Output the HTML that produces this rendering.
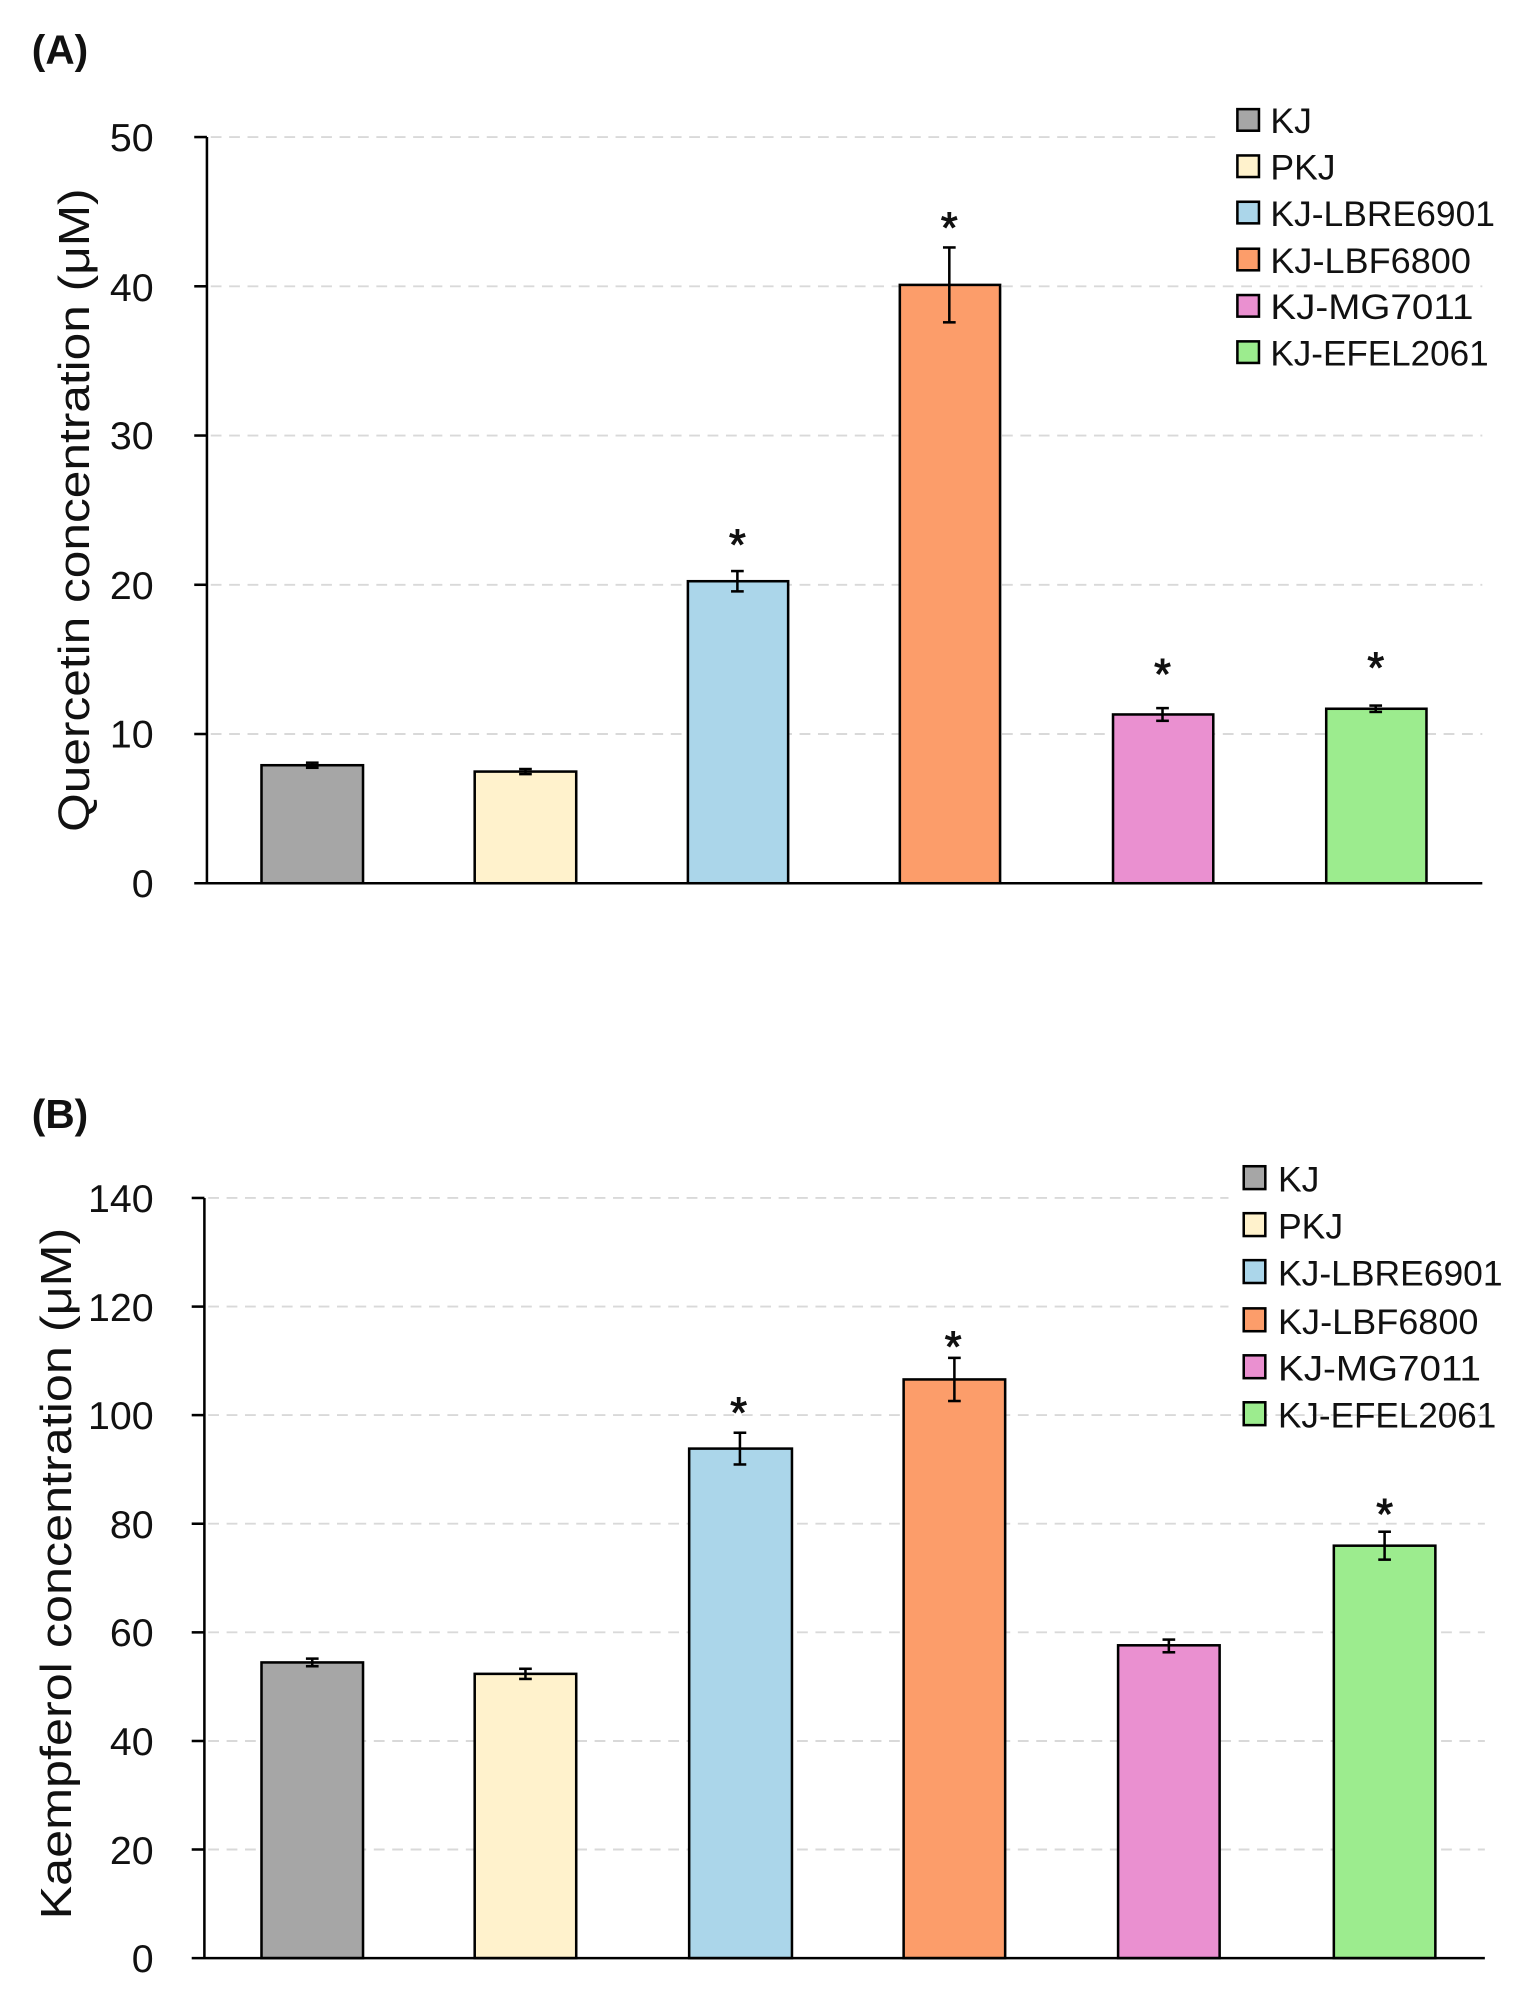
<!DOCTYPE html>
<html><head><meta charset="utf-8"><style>
html,body{margin:0;padding:0;background:#fff;}
svg{display:block;}
text{font-family:"Liberation Sans",sans-serif;fill:#111;}
</style></head><body>
<svg width="1523" height="2000" viewBox="0 0 1200 1576" xmlns="http://www.w3.org/2000/svg">
<!-- Panel A -->
<text x="25" y="50" font-size="32" font-weight="bold">(A)</text>
<g stroke="#d9d9d9" stroke-width="1.5" stroke-dasharray="8.5,6">
<line x1="166" y1="108" x2="960" y2="108"/>
<line x1="166" y1="225.6" x2="1168" y2="225.6"/>
<line x1="166" y1="343.2" x2="1168" y2="343.2"/>
<line x1="166" y1="460.8" x2="1168" y2="460.8"/>
<line x1="166" y1="578.4" x2="1168" y2="578.4"/>
</g>
<g font-size="31" text-anchor="end">
<text x="121" y="119">50</text><text x="121" y="237">40</text><text x="121" y="354">30</text>
<text x="121" y="472">20</text><text x="121" y="589">10</text><text x="121" y="707">0</text>
</g>
<g stroke="#000" stroke-width="2">
<line x1="163" y1="108" x2="163" y2="696"/>
<line x1="153" y1="108" x2="163" y2="108"/><line x1="153" y1="225.6" x2="163" y2="225.6"/>
<line x1="153" y1="343.2" x2="163" y2="343.2"/><line x1="153" y1="460.8" x2="163" y2="460.8"/>
<line x1="153" y1="578.4" x2="163" y2="578.4"/>
</g>
<text transform="translate(70,402) rotate(-90)" font-size="34" text-anchor="middle" textLength="507" lengthAdjust="spacingAndGlyphs">Quercetin  concentration (μM)</text>
<g stroke="#000" stroke-width="2">
<rect x="206" y="603" width="80" height="93" fill="#a6a6a6"/>
<rect x="374" y="608" width="80" height="88" fill="#fff2cc"/>
<rect x="542" y="458" width="79" height="238" fill="#abd6ea"/>
<rect x="709" y="224.5" width="79" height="471.5" fill="#fc9d6a"/>
<rect x="877" y="563" width="79" height="133" fill="#ea90d0"/>
<rect x="1045" y="558.5" width="79" height="137.5" fill="#9cec8e"/>
</g>
<line x1="153" y1="696" x2="1168" y2="696" stroke="#000" stroke-width="2"/>
<g stroke="#000" stroke-width="2">
<line x1="246" y1="601" x2="246" y2="605"/><line x1="241" y1="601" x2="251" y2="601"/><line x1="241" y1="605" x2="251" y2="605"/>
<line x1="414" y1="606" x2="414" y2="610"/><line x1="409" y1="606" x2="419" y2="606"/><line x1="409" y1="610" x2="419" y2="610"/>
<line x1="581" y1="450" x2="581" y2="466"/><line x1="576" y1="450" x2="586" y2="450"/><line x1="576" y1="466" x2="586" y2="466"/>
<line x1="748" y1="195" x2="748" y2="254"/><line x1="743" y1="195" x2="753" y2="195"/><line x1="743" y1="254" x2="753" y2="254"/>
<line x1="916" y1="558" x2="916" y2="568"/><line x1="911" y1="558" x2="921" y2="558"/><line x1="911" y1="568" x2="921" y2="568"/>
<line x1="1084" y1="556" x2="1084" y2="561"/><line x1="1079" y1="556" x2="1089" y2="556"/><line x1="1079" y1="561" x2="1089" y2="561"/>
</g>
<g font-size="34" text-anchor="middle" stroke="#111" stroke-width="0.8">
<text x="581" y="441">*</text><text x="748" y="191">*</text><text x="916" y="543">*</text><text x="1084" y="538">*</text>
</g>
<g stroke="#000" stroke-width="2">
<rect x="975" y="86" width="17" height="17" fill="#a6a6a6"/>
<rect x="975" y="122.5" width="17" height="17" fill="#fff2cc"/>
<rect x="975" y="159" width="17" height="17" fill="#abd6ea"/>
<rect x="975" y="196" width="17" height="17" fill="#fc9d6a"/>
<rect x="975" y="232.5" width="17" height="17" fill="#ea90d0"/>
<rect x="975" y="269" width="17" height="17" fill="#9cec8e"/>
</g>
<g font-size="28">
<text x="1001" y="105">KJ</text>
<text x="1001" y="141.5">PKJ</text>
<text x="1001" y="178" textLength="177" lengthAdjust="spacingAndGlyphs">KJ-LBRE6901</text>
<text x="1001" y="215" textLength="158" lengthAdjust="spacingAndGlyphs">KJ-LBF6800</text>
<text x="1001" y="251.5" textLength="160" lengthAdjust="spacingAndGlyphs">KJ-MG7011</text>
<text x="1001" y="288" textLength="172" lengthAdjust="spacingAndGlyphs">KJ-EFEL2061</text>
</g>

<!-- Panel B -->
<text x="25" y="889" font-size="32" font-weight="bold">(B)</text>
<g stroke="#d9d9d9" stroke-width="1.5" stroke-dasharray="8.5,6">
<line x1="164" y1="944" x2="968" y2="944"/>
<line x1="164" y1="1029.6" x2="968" y2="1029.6"/>
<line x1="164" y1="1115.1" x2="1170" y2="1115.1"/>
<line x1="164" y1="1200.7" x2="1170" y2="1200.7"/>
<line x1="164" y1="1286.3" x2="1170" y2="1286.3"/>
<line x1="164" y1="1371.9" x2="1170" y2="1371.9"/>
<line x1="164" y1="1457.4" x2="1170" y2="1457.4"/>
</g>
<g font-size="31" text-anchor="end">
<text x="121" y="955">140</text><text x="121" y="1041">120</text><text x="121" y="1126">100</text>
<text x="121" y="1212">80</text><text x="121" y="1297">60</text><text x="121" y="1383">40</text>
<text x="121" y="1469">20</text><text x="121" y="1554">0</text>
</g>
<g stroke="#000" stroke-width="2">
<line x1="161" y1="944" x2="161" y2="1543"/>
<line x1="151" y1="944" x2="161" y2="944"/><line x1="151" y1="1029.6" x2="161" y2="1029.6"/>
<line x1="151" y1="1115.1" x2="161" y2="1115.1"/><line x1="151" y1="1200.7" x2="161" y2="1200.7"/>
<line x1="151" y1="1286.3" x2="161" y2="1286.3"/><line x1="151" y1="1371.9" x2="161" y2="1371.9"/>
<line x1="151" y1="1457.4" x2="161" y2="1457.4"/>
</g>
<text transform="translate(56,1240) rotate(-90)" font-size="34" text-anchor="middle" textLength="545" lengthAdjust="spacingAndGlyphs">Kaempferol  concentration (μM)</text>
<g stroke="#000" stroke-width="2">
<rect x="206" y="1310" width="80" height="233" fill="#a6a6a6"/>
<rect x="374" y="1319" width="80" height="224" fill="#fff2cc"/>
<rect x="543" y="1141.5" width="81" height="401.5" fill="#abd6ea"/>
<rect x="712" y="1087" width="80" height="456" fill="#fc9d6a"/>
<rect x="881" y="1296.5" width="80" height="246.5" fill="#ea90d0"/>
<rect x="1051" y="1218" width="80" height="325" fill="#9cec8e"/>
</g>
<line x1="151" y1="1543" x2="1170" y2="1543" stroke="#000" stroke-width="2"/>
<g stroke="#000" stroke-width="2">
<line x1="246" y1="1307" x2="246" y2="1313"/><line x1="241" y1="1307" x2="251" y2="1307"/><line x1="241" y1="1313" x2="251" y2="1313"/>
<line x1="414" y1="1315" x2="414" y2="1323"/><line x1="409" y1="1315" x2="419" y2="1315"/><line x1="409" y1="1323" x2="419" y2="1323"/>
<line x1="583" y1="1129" x2="583" y2="1154"/><line x1="578" y1="1129" x2="588" y2="1129"/><line x1="578" y1="1154" x2="588" y2="1154"/>
<line x1="752" y1="1070" x2="752" y2="1104"/><line x1="747" y1="1070" x2="757" y2="1070"/><line x1="747" y1="1104" x2="757" y2="1104"/>
<line x1="921" y1="1292" x2="921" y2="1302"/><line x1="916" y1="1292" x2="926" y2="1292"/><line x1="916" y1="1302" x2="926" y2="1302"/>
<line x1="1091" y1="1207" x2="1091" y2="1229"/><line x1="1086" y1="1207" x2="1096" y2="1207"/><line x1="1086" y1="1229" x2="1096" y2="1229"/>
</g>
<g font-size="34" text-anchor="middle" stroke="#111" stroke-width="0.8">
<text x="582" y="1125">*</text><text x="751" y="1073">*</text><text x="1091" y="1205">*</text>
</g>
<g stroke="#000" stroke-width="2">
<rect x="980" y="919" width="17" height="18" fill="#a6a6a6"/>
<rect x="980" y="956" width="17" height="18" fill="#fff2cc"/>
<rect x="980" y="993" width="17" height="18" fill="#abd6ea"/>
<rect x="980" y="1031" width="17" height="18" fill="#fc9d6a"/>
<rect x="980" y="1068" width="17" height="18" fill="#ea90d0"/>
<rect x="980" y="1105" width="17" height="18" fill="#9cec8e"/>
</g>
<g font-size="28">
<text x="1007" y="939">KJ</text>
<text x="1007" y="976">PKJ</text>
<text x="1007" y="1013" textLength="177" lengthAdjust="spacingAndGlyphs">KJ-LBRE6901</text>
<text x="1007" y="1051" textLength="158" lengthAdjust="spacingAndGlyphs">KJ-LBF6800</text>
<text x="1007" y="1088" textLength="160" lengthAdjust="spacingAndGlyphs">KJ-MG7011</text>
<text x="1007" y="1125" textLength="172" lengthAdjust="spacingAndGlyphs">KJ-EFEL2061</text>
</g>
</svg>
</body></html>
